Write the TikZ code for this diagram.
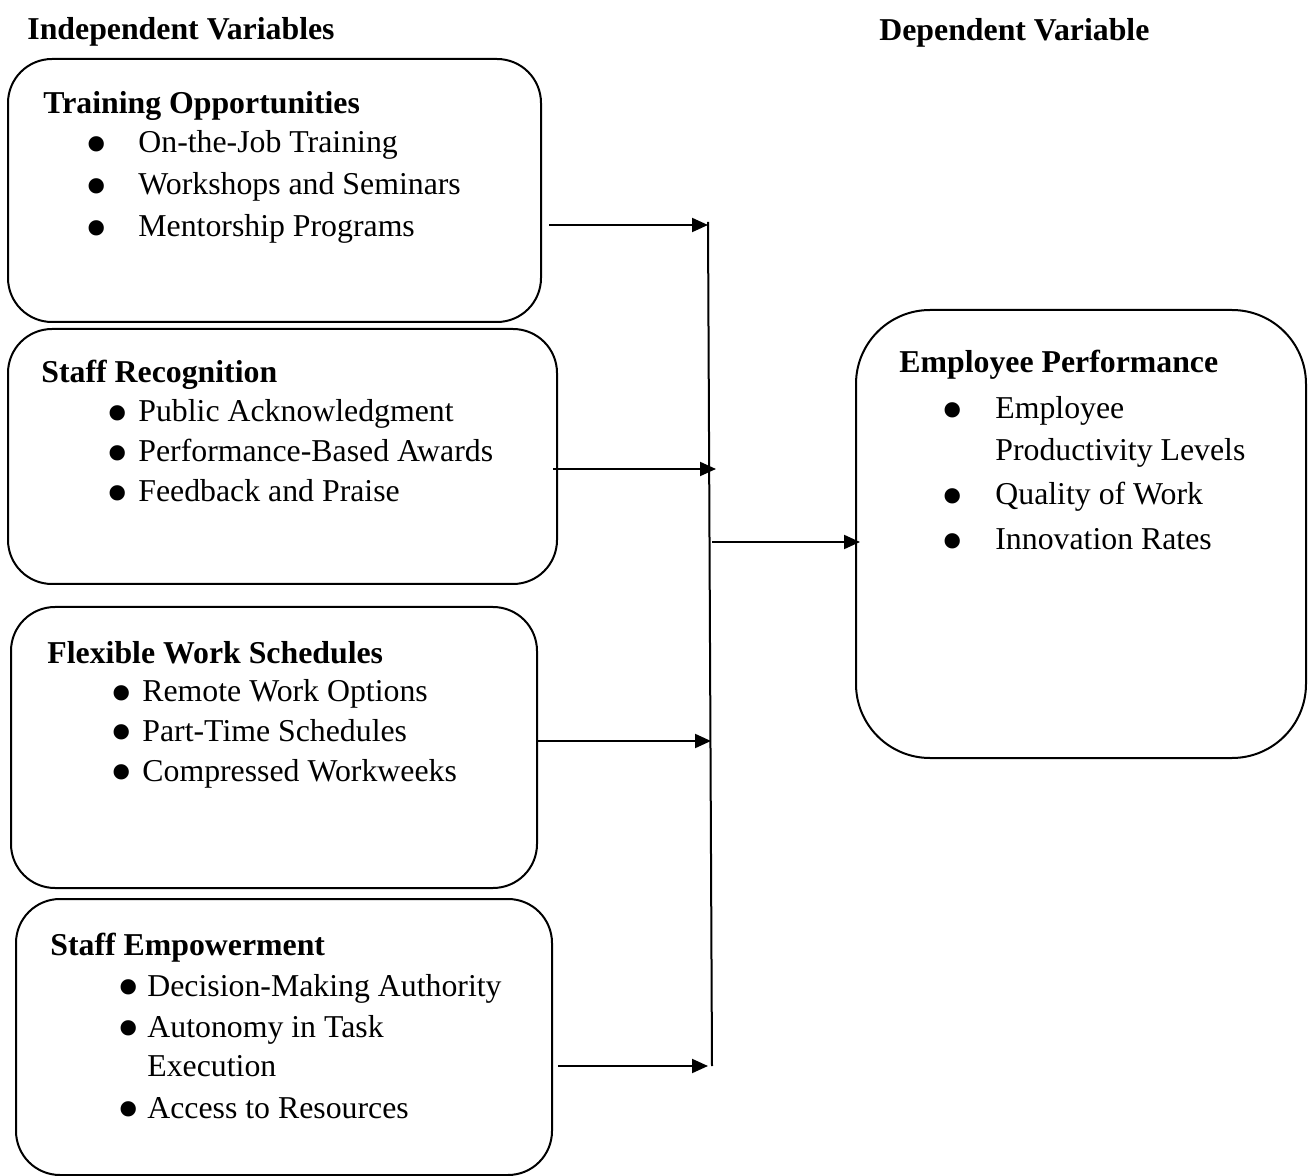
\documentclass[tikz,border=0pt]{standalone}
\usepackage{fontspec}
\setmainfont{Liberation Serif}
\usetikzlibrary{arrows.meta}
\begin{document}
\begin{tikzpicture}[x=0.5pt,y=-0.5pt,
  font=\fontsize{15.9}{19}\selectfont,
  box/.style={draw,line width=1pt,rounded corners=22pt},
  bigbox/.style={draw,line width=1pt,rounded corners=37pt},
  txt/.style={anchor=base west,inner sep=0pt},
  hd/.style={anchor=base west,inner sep=0pt,font=\fontsize{15.9}{19}\selectfont\bfseries},
  bul/.style={anchor=center,inner sep=0pt,font=\fontsize{32}{32}\selectfont},
  conn/.style={line width=1pt,-{Triangle[length=8pt,width=7pt]}},
  vline/.style={line width=1pt}]
\useasboundingbox (0,0) rectangle (1313,1176);
% boxes
\draw[box] (8,59) rectangle (541,322);
\draw[box] (8,329) rectangle (557,584);
\draw[box] (11,607) rectangle (537,888);
\draw[box] (16,899) rectangle (552,1175);
\draw[bigbox] (856,310) rectangle (1306,758);
% headers
\node[hd] (iv) at (27,40) {Independent Variables};
\node[hd] (dv) at (879,41) {Dependent Variable};
% box 1
\node[hd] (t1) at (43,114) {Training Opportunities};
\node[bul] (b11) at (97,151) {•}; \node[txt] (t11) at (138,153) {On-the-Job Training};
\node[bul] (b12) at (97,193) {•}; \node[txt] (t12) at (138,195) {Workshops and Seminars};
\node[bul] (b13) at (97,235) {•}; \node[txt] (t13) at (138,237) {Mentorship Programs};
% box 2
\node[hd] (t2) at (41,383) {Staff Recognition};
\node[bul] (b21) at (118,420) {•}; \node[txt] (t21) at (138,422) {Public Acknowledgment};
\node[bul] (b22) at (118,460) {•}; \node[txt] (t22) at (138,462) {Performance-Based Awards};
\node[bul] (b23) at (118,500) {•}; \node[txt] (t23) at (138,502) {Feedback and Praise};
% box 3
\node[hd] (t3) at (47,663) {Flexible Work Schedules};
\node[bul] (b31) at (122,700) {•}; \node[txt] (t31) at (142,702) {Remote Work Options};
\node[bul] (b32) at (122,739) {•}; \node[txt] (t32) at (142,741) {Part-Time Schedules};
\node[bul] (b33) at (122,779) {•}; \node[txt] (t33) at (142,781) {Compressed Workweeks};
% box 4
\node[hd] (t4) at (50,955) {Staff Empowerment};
\node[bul] (b41) at (129,994) {•}; \node[txt] (t41) at (147,996) {Decision-Making Authority};
\node[bul] (b42) at (129,1035) {•}; \node[txt] (t42) at (147,1037) {Autonomy in Task};
\node[txt] (t42b) at (147,1076) {Execution};
\node[bul] (b43) at (129,1116) {•}; \node[txt] (t43) at (147,1118) {Access to Resources};
% box 5
\node[hd] (t5) at (899,373) {Employee Performance};
\node[bul] (b51) at (953,417) {•}; \node[txt] (t51) at (995,419) {Employee};
\node[txt] (t51b) at (995,461) {Productivity Levels};
\node[bul] (b52) at (953,503) {•}; \node[txt] (t52) at (995,505) {Quality of Work};
\node[bul] (b53) at (953,548) {•}; \node[txt] (t53) at (995,550) {Innovation Rates};
% connector coordinates
\coordinate (vtop) at (708,222);
\coordinate (vbot) at (712,1066);
\coordinate (s1) at (549,225); \coordinate (e1) at (708,225);
\coordinate (s2) at (553,469); \coordinate (e2) at (716,469);
\coordinate (s3) at (537,741); \coordinate (e3) at (711,741);
\coordinate (s4) at (558,1066); \coordinate (e4) at (708,1066);
\coordinate (s5) at (712,542); \coordinate (e5) at (860,542);
\draw[vline] (vtop) -- (vbot);
\draw[conn] (s1) -- (e1);
\draw[conn] (s2) -- (e2);
\draw[conn] (s3) -- (e3);
\draw[conn] (s4) -- (e4);
\draw[conn] (s5) -- (e5);
\end{tikzpicture}
\end{document}
